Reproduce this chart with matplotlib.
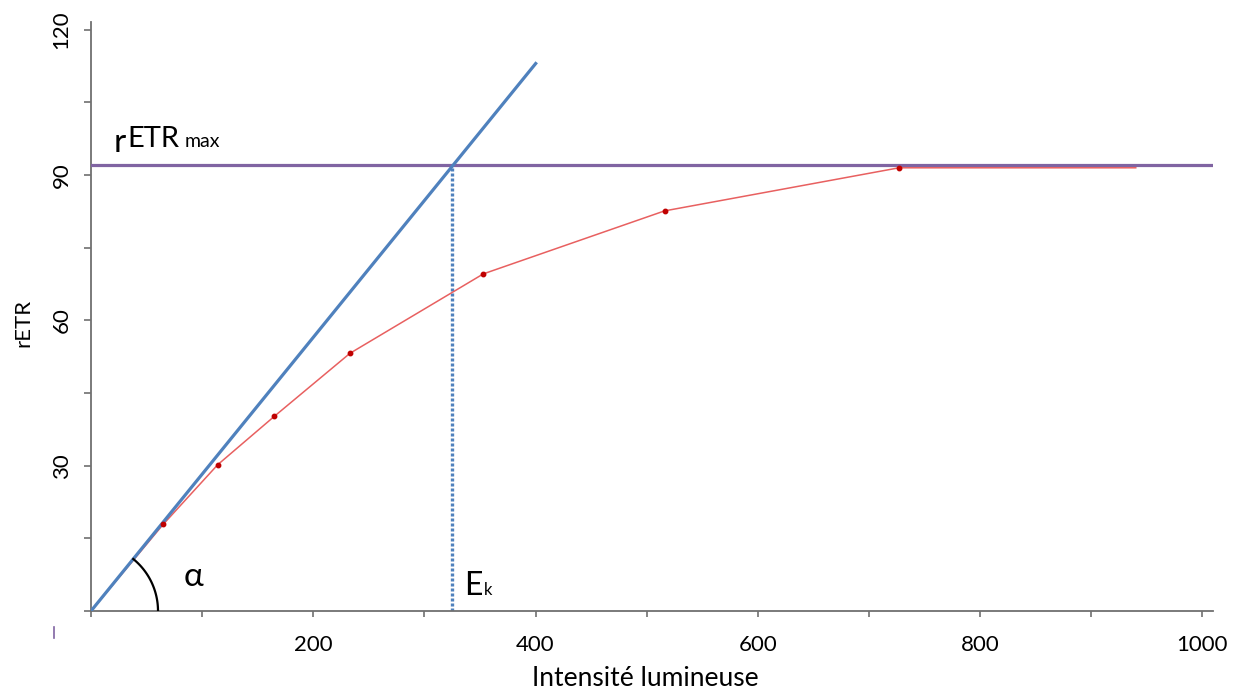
import numpy as np
import matplotlib
matplotlib.use("Agg")
import matplotlib.pyplot as plt
from matplotlib.lines import Line2D

# ---- data ----
light = [0, 65, 114, 165, 233, 353, 516, 727, 800, 940]
retr = [0, 17.9, 30.2, 40.2, 53.2, 69.6, 82.6, 91.5, 91.5, 91.5]
marked = [1, 2, 3, 4, 5, 6, 7]
alpha_slope = 0.2825
alpha_line_x = [0, 401]
ek = 325
retr_max = 92.0
x_ticks_major = [200, 400, 600, 800, 1000]
y_ticks_major = [30, 60, 90, 120]

W, H = 1240, 693
fig = plt.figure(figsize=(W / 100, H / 100), dpi=100)
plt.rcParams['font.family'] = ['Lato', 'DejaVu Sans']

ax_l, ax_r, ax_b, ax_t = 91, 1213, 611, 22
ax = fig.add_axes([ax_l / W, 1 - ax_b / H, (ax_r - ax_l) / W, (ax_b - ax_t) / H])
xmax, ymax = 1009.5, 121.6
ax.set_xlim(0, xmax)
ax.set_ylim(0, ymax)

blue = '#4F81BD'
purple = '#8064A2'

# alpha line
ax.plot(alpha_line_x, [alpha_slope * v for v in alpha_line_x], color=blue, lw=2.3,
        solid_capstyle='butt', zorder=4)
# rETRmax
ax.axhline(retr_max, color=purple, lw=2.3, zorder=3)
# Ek dotted
ax.plot([ek, ek], [0, retr_max], color=blue, lw=2.4, linestyle=(0, (0.9, 0.6)), zorder=2)
# data curve
ax.plot(light, retr, color='#E86060', lw=1.1, zorder=3)
ax.plot([light[i] for i in marked], [retr[i] for i in marked], linestyle='none',
        marker='o', ms=3.2, color='#C00000', zorder=5)

# alpha arc (circular in display)
pxx = (ax_r - ax_l) / xmax
pxy = (ax_b - ax_t) / ymax
theta = np.arctan(alpha_slope * pxy / pxx)
phi = np.linspace(0, theta, 60)
r = 67
ax.plot(r * np.cos(phi) / pxx, r * np.sin(phi) / pxy, color='black', lw=1.6, zorder=4)


def px(xp, yp):
    return (xp - ax_l) / pxx, (ax_b - yp) / pxy


# annotations
ax.text(*px(114, 152), 'r', fontsize=24, ha='left', va='baseline')
ax.text(*px(127, 147), 'ETR', fontsize=21, ha='left', va='baseline')
ax.text(*px(185, 147), 'max', fontsize=14, ha='left', va='baseline')
ax.text(*px(464, 595), 'E', fontsize=23, ha='left', va='baseline')
ax.text(*px(484, 595), 'k', fontsize=12, ha='left', va='baseline')
ax.text(*px(184, 586), 'α', fontsize=24, ha='left', va='baseline')

# axes styling
for s in ['top', 'right']:
    ax.spines[s].set_visible(False)
for s in ['left', 'bottom']:
    ax.spines[s].set_color('#707070')
    ax.spines[s].set_linewidth(1.3)

ax.set_xticks(np.arange(0, 1001, 100))
ax.set_xticklabels([str(v) if v in x_ticks_major else '' for v in range(0, 1001, 100)])
ax.set_yticks(np.arange(0, 121, 15))
ax.set_yticklabels([str(v) if v in y_ticks_major else '' for v in range(0, 121, 15)],
                   rotation=90, va='center')
ax.tick_params(axis='x', direction='out', length=4, width=1.2, color='#707070',
               pad=13, labelsize=16)
ax.tick_params(axis='y', direction='out', length=5, width=1.2, color='#707070',
               pad=9, labelsize=16)

fig.text(645 / W, 1 - 678 / H, 'Intensité lumineuse', fontsize=19, ha='center', va='center')
fig.text(23 / W, 1 - 323 / H, 'rETR', fontsize=16, ha='center', va='center', rotation=90)

fig.add_artist(Line2D([53.5 / W, 53.5 / W], [1 - 627 / H, 1 - 638 / H], color=purple, lw=1.2))

fig.savefig('out.png', dpi=100)
